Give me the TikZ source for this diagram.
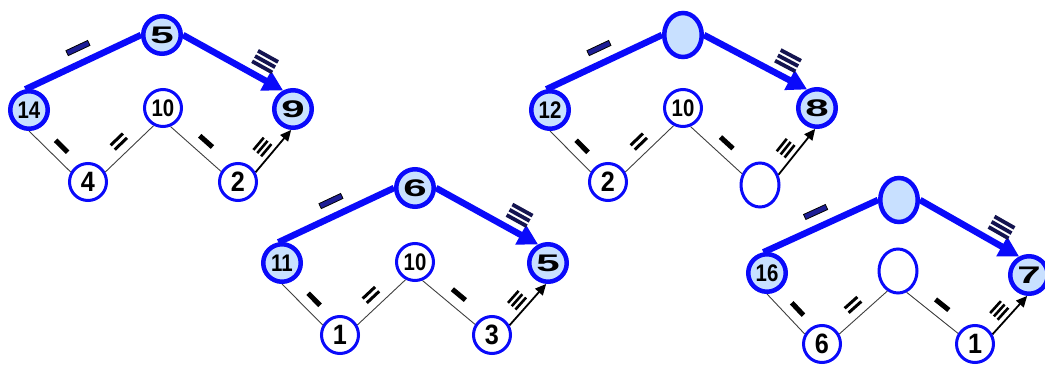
\documentclass[tikz,border=0pt]{standalone}
\usepackage{fontspec}
\setmainfont{Liberation Sans}
\usetikzlibrary{arrows.meta,shapes.geometric}
\pgfdeclarelayer{background}
\pgfsetlayers{background,main}
\definecolor{nodeblue}{RGB}{10,10,250}
\definecolor{fillblue}{RGB}{200,224,255}
\definecolor{markblue}{RGB}{30,30,150}
\definecolor{markdark}{RGB}{20,20,80}
\newcommand\bignum[1]{\scalebox{1.75}[1]{\fontsize{24}{24}\selectfont\bfseries #1}}
\newcommand\twonum[1]{\scalebox{0.85}[1]{\fontsize{24}{24}\selectfont\bfseries #1}}
\newcommand\lownum[1]{\scalebox{0.9}[1]{\fontsize{28}{28}\selectfont\bfseries #1}}
\tikzset{
 hinode/.style={circle, draw=nodeblue, line width=4.5pt, fill=fillblue, minimum size=37.5pt, inner sep=0pt, text=black},
 lonode/.style={circle, draw=nodeblue, line width=3pt, fill=white, minimum size=37pt, inner sep=0pt, text=black},
 hiempty/.style={ellipse, draw=nodeblue, line width=4.5pt, fill=fillblue, minimum width=37.5pt, minimum height=44pt, inner sep=0pt},
 loempty/.style={ellipse, draw=nodeblue, line width=3pt, fill=white, minimum width=38pt, minimum height=44pt, inner sep=0pt},
 thickedge/.style={draw=nodeblue, line width=6.5pt},
 thickarrow/.style={draw=nodeblue, line width=6.5pt, -{Triangle[length=20pt,width=21pt]}},
 thinedge/.style={draw=black!75, line width=0.9pt},
 blackarrow/.style={draw=black, line width=1.8pt, -{Triangle[length=11pt,width=10pt]}},
 topbar/.style={rectangle, fill=markblue, draw=black, line width=0.8pt, minimum width=24pt, minimum height=5.5pt, inner sep=0pt, sloped},
 topthin/.style={rectangle, fill=markdark, minimum height=3.8pt, minimum width=23pt, inner sep=0pt, sloped},
 lowbar/.style={rectangle, fill=black, minimum width=17pt, minimum height=5pt, inner sep=0pt, sloped},
 lowthin/.style={lowbar, minimum width=17pt, minimum height=3pt},
 lowthinner/.style={lowbar, minimum width=16pt, minimum height=2.6pt},
}
\newcommand\treeedges[1]{%
 \begin{pgfonlayer}{background}
  \draw[thickedge] (#1t.west) -- (#1l.100);
  \draw[thickarrow] (#1t.east) -- (#1r.118);
  \draw[thinedge] (#1l.south) -- (#1bl.150);
  \draw[thinedge] (#1bl.30) -- (#1m.242);
  \draw[thinedge] (#1m.292) -- (#1br.148);
  \draw[blackarrow] (#1br.29) -- (#1r.265);
 \end{pgfonlayer}
 \path (#1t.west) -- (#1l.100) node[topbar, pos=0.49, yshift=15pt] (#1ka) {};
 \path (#1t.east) -- (#1r.118)
   node[topthin, pos=0.74, yshift=10.5pt] (#1kb1) {}
   node[topthin, pos=0.74, yshift=16.5pt] (#1kb2) {}
   node[topthin, pos=0.74, yshift=22.5pt] (#1kb3) {};
 \path (#1l.south) -- (#1bl.150) node[lowbar, pos=0.58, yshift=12pt] (#1kc) {};
 \path (#1bl.30) -- (#1m.242)
   node[lowthin, pos=0.46, yshift=9.6pt] (#1kd1) {}
   node[lowthin, pos=0.46, yshift=15.6pt] (#1kd2) {};
 \path (#1m.292) -- (#1br.148) node[lowbar, pos=0.54, yshift=12.5pt] (#1ke) {};
 \path (#1br.29) -- (#1r.265)
   node[lowthinner, pos=0.43, yshift=6pt] (#1kf1) {}
   node[lowthinner, pos=0.43, yshift=11pt] (#1kf2) {}
   node[lowthinner, pos=0.43, yshift=16pt] (#1kf3) {};
}
\begin{document}
\begin{tikzpicture}[x=1pt,y=1pt]
\useasboundingbox (0,0) rectangle (1045,-369);
\begin{pgfonlayer}{background}
 \fill[white] (0,0) rectangle (1045,-369);
\end{pgfonlayer}
% diagram 1
\begin{scope}[shift={(162,-35)}]
 \node[hinode] (at) at (0,0) {\bignum{5}};
 \node[hinode] (al) at (-133,-75) {\twonum{14}};
 \node[lonode] (am) at (1,-73) {\twonum{10}};
 \node[hinode] (ar) at (131,-74) {\bignum{9}};
 \node[lonode] (abl) at (-74,-147) {\lownum{4}};
 \node[lonode] (abr) at (76,-147) {\lownum{2}};
\end{scope}
\treeedges{a}
% diagram 2
\begin{scope}[shift={(415,-188)}]
 \node[hinode] (bt) at (0,0) {\bignum{6}};
 \node[hinode] (bl) at (-133,-75) {\twonum{11}};
 \node[lonode] (bm) at (0,-74) {\twonum{10}};
 \node[hinode] (br) at (133,-75) {\bignum{5}};
 \node[lonode] (bbl) at (-75,-147) {\lownum{1}};
 \node[lonode] (bbr) at (77,-147) {\lownum{3}};
\end{scope}
\treeedges{b}
% diagram 3
\begin{scope}[shift={(683,-35)}]
 \node[hiempty] (ct) at (0,0) {};
 \node[hinode] (cl) at (-133,-75) {\twonum{12}};
 \node[lonode] (cm) at (0,-73) {\twonum{10}};
 \node[hinode] (cr) at (134,-73) {\bignum{8}};
 \node[lonode] (cbl) at (-75,-147) {\lownum{2}};
 \node[loempty] (cbr) at (77,-150) {};
\end{scope}
\treeedges{c}
% diagram 4
\begin{scope}[shift={(899,-200)}]
 \node[hiempty] (dt) at (0,0) {};
 \node[hinode] (dl) at (-132,-73) {\twonum{16}};
 \node[loempty] (dm) at (-1,-71) {};
 \node[hinode] (dr) at (130,-75) {\bignum{7}};
 \node[lonode] (dbl) at (-77,-144) {\lownum{6}};
 \node[lonode] (dbr) at (76,-144) {\lownum{1}};
\end{scope}
\treeedges{d}
\end{tikzpicture}
\end{document}
